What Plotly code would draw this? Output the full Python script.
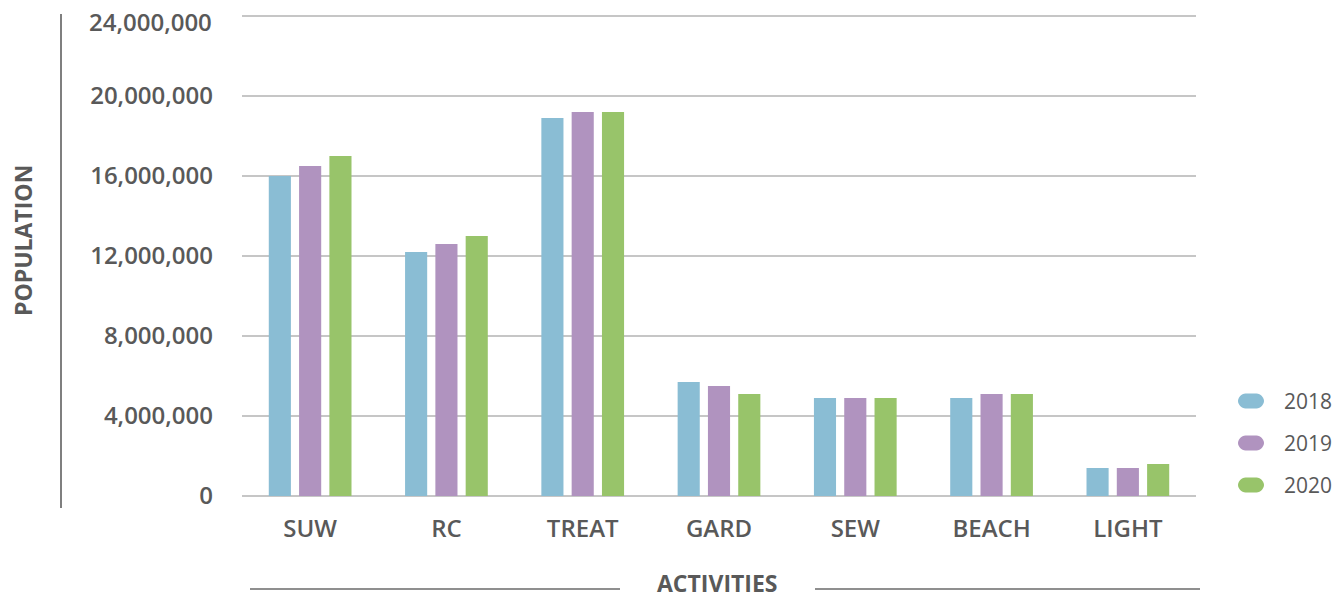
import plotly.graph_objects as go

# Activity categories and population (in people) per year
activities = ["SUW", "RC", "TREAT", "GARD", "SEW", "BEACH", "LIGHT"]
years = ["2018", "2019", "2020"]
pop_2018 = [16_000_000, 12_200_000, 18_900_000, 5_700_000, 4_900_000, 4_900_000, 1_400_000]
pop_2019 = [16_500_000, 12_600_000, 19_200_000, 5_500_000, 4_900_000, 5_100_000, 1_400_000]
pop_2020 = [17_000_000, 13_000_000, 19_200_000, 5_100_000, 4_900_000, 5_100_000, 1_600_000]
y_ticks = [0, 4_000_000, 8_000_000, 12_000_000, 16_000_000, 20_000_000, 24_000_000]

series = [pop_2018, pop_2019, pop_2020]
colors = ["#8abdd4", "#b093bf", "#98c46a"]

W, H = 1332, 599
ML, MR, MT, MB = 242, 136, 6, 103
PW, PH = W - ML - MR, H - MT - MB
TEXT = "#595959"
FONT = "Open Sans"


def px_x(px):
    return (px - ML) / PW


def px_y(py):
    return (H - MB - py) / PH


fig = go.Figure()
for name, vals, col in zip(years, series, colors):
    fig.add_trace(go.Bar(x=activities, y=vals, name=name, marker_color=col,
                         marker_line_width=0, showlegend=False))

shapes = [
    # vertical rule beside the y-axis title
    dict(type="line", xref="paper", yref="paper", x0=px_x(61), x1=px_x(61),
         y0=px_y(14), y1=px_y(508), line=dict(color="#7f7f7f", width=2)),
    # rules either side of the x-axis title
    dict(type="line", xref="paper", yref="paper", x0=px_x(250), x1=px_x(620),
         y0=px_y(589), y1=px_y(589), line=dict(color="#6a6a6a", width=1.5)),
    dict(type="line", xref="paper", yref="paper", x0=px_x(815), x1=px_x(1200),
         y0=px_y(589), y1=px_y(589), line=dict(color="#6a6a6a", width=1.5)),
]

# rounded pill legend keys
pill = ("M -5.5,-7.5 L 5.5,-7.5 C 9.64,-7.5 13,-3.36 13,0 C 13,3.36 9.64,7.5 5.5,7.5 "
        "L -5.5,7.5 C -9.64,7.5 -13,3.36 -13,0 C -13,-3.36 -9.64,-7.5 -5.5,-7.5 Z")
annotations = [
    dict(text="<b>POPULATION</b>", xref="paper", yref="paper", x=px_x(23), y=px_y(241),
         textangle=-90, showarrow=False, xanchor="center", yanchor="middle",
         font=dict(family=FONT, size=23, color=TEXT)),
    dict(text="<b>ACTIVITIES</b>", xref="paper", yref="paper", x=px_x(717), y=px_y(583),
         showarrow=False, xanchor="center", yanchor="middle",
         font=dict(family=FONT, size=23, color=TEXT)),
    # top tick label, nudged down so it stays inside the page
    dict(text=f"{y_ticks[-1]:,}", xref="paper", yref="paper", x=px_x(214), y=px_y(21),
         showarrow=False, xanchor="right", yanchor="middle",
         font=dict(family=FONT, size=24, color=TEXT, weight=600)),
]
for i, (name, col) in enumerate(zip(years, colors)):
    cy = 401 + 42 * i
    shapes.append(dict(type="path", path=pill, xref="paper", yref="paper",
                       xsizemode="pixel", ysizemode="pixel",
                       xanchor=px_x(1251), yanchor=px_y(cy),
                       fillcolor=col, line=dict(width=0)))
    annotations.append(dict(text=name, xref="paper", yref="paper", x=px_x(1282), y=px_y(cy),
                            showarrow=False, xanchor="left", yanchor="middle",
                            font=dict(family=FONT, size=21, color=TEXT)))

tick_text = [f"{v:,}" for v in y_ticks[:-1]] + [""]

fig.update_layout(
    width=W, height=H,
    margin=dict(l=ML, r=MR, t=MT, b=MB, pad=0, autoexpand=False),
    paper_bgcolor="white", plot_bgcolor="white",
    barmode="group", bargap=0.333, bargroupgap=0.27,
    font=dict(family=FONT, color=TEXT),
    shapes=shapes, annotations=annotations,
    showlegend=False,
)
fig.update_xaxes(
    showgrid=False, showline=False, ticks="", automargin=False,
    tickfont=dict(family=FONT, size=24, color=TEXT, weight=600),
    ticklabelstandoff=16,
)
fig.update_yaxes(
    range=[0, 24_500_000], tickmode="array", tickvals=y_ticks,
    ticktext=tick_text, ticklabeloverflow="allow",
    automargin=False,
    showgrid=True, gridcolor="#c6c6c6", gridwidth=1.5,
    zeroline=True, zerolinecolor="#c6c6c6", zerolinewidth=1.5,
    showline=False, ticks="",
    tickfont=dict(family=FONT, size=24, color=TEXT, weight=600),
    ticklabelstandoff=28,
)

fig.write_html("out.html")
